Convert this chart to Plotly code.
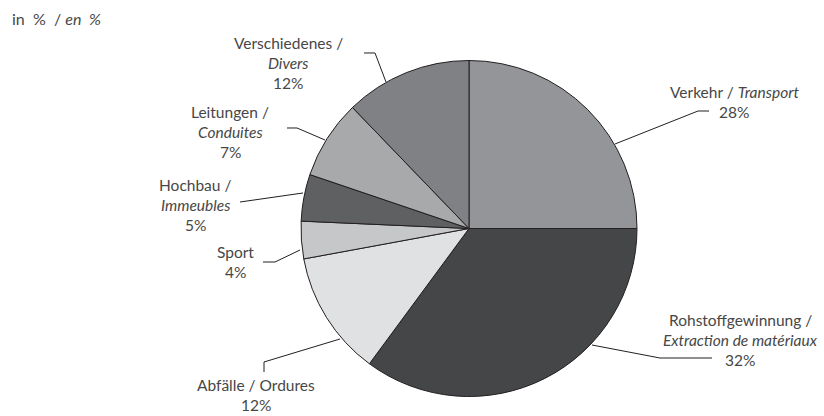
import plotly.graph_objects as go

# Daten (Anteile, Beschriftung wie gedruckt)
kategorien = ['Verkehr', 'Rohstoffgewinnung', 'Abfälle', 'Sport', 'Hochbau', 'Leitungen', 'Verschiedenes']
werte = [25.0, 35.1, 12.0, 3.6, 4.5, 7.6, 12.2]
prozent_text = ['28%', '32%', '12%', '4%', '5%', '7%', '12%']
farben = ['#939598', '#454648', '#e0e1e3', '#c6c7c9', '#5f6062', '#a8a9ab', '#808184']

W, H = 824, 416
SCHRIFT = dict(family='Lato', size=15.5, color='#474747')


def px(x):
    return x / W


def py(y):
    return 1 - y / H


# Label: Zeilen, Mitte x, y der ersten Zeile (Pixel)
labels = [
    (['Verkehr / <i>Transport</i>', prozent_text[0]], 734, 92),
    (['Rohstoffgewinnung /', '<i>Extraction de matériaux</i>', prozent_text[1]], 740, 320),
    (['Abfälle / Ordures', prozent_text[2]], 256, 385),
    (['Sport', prozent_text[3]], 235, 252),
    (['Hochbau /', '<i>Immeubles</i>', prozent_text[4]], 195, 185),
    (['Leitungen /', '<i>Conduites</i>', prozent_text[5]], 230, 112),
    (['Verschiedenes /', '<i>Divers</i>', prozent_text[6]], 288, 43),
]
linien = [
    [(615, 144), (698, 111), (709, 111)],
    [(592, 345), (660, 358), (712, 358)],
    [(340, 339), (264, 362), (264, 372)],
    [(300, 250), (275, 262), (263, 262)],
    [(303, 193), (240, 202)],
    [(325, 140), (297, 128), (287, 128)],
    [(386, 82), (375, 53), (364, 53)],
]

fig = go.Figure()
fig.add_trace(go.Pie(
    labels=kategorien, values=werte, sort=False, direction='clockwise', rotation=0,
    marker=dict(colors=farben, line=dict(color='#231f20', width=1)),
    textinfo='none', hoverinfo='label+percent',
    domain=dict(x=[px(301), px(637)], y=[py(397), py(60)]),
))

ann = []
for zeilen, xm, y0 in labels:
    for i, z in enumerate(zeilen):
        ann.append(dict(text=z, x=px(xm), y=py(y0 + i * 20), xref='paper', yref='paper',
                        xanchor='center', yanchor='middle', showarrow=False, font=SCHRIFT))
ann.append(dict(text='in&nbsp;&nbsp;%&nbsp;&nbsp;/&nbsp;<i>en&nbsp;&nbsp;%</i>', x=px(10), y=py(19),
                xref='paper', yref='paper', xanchor='left', yanchor='middle', showarrow=False,
                font=dict(family='Lato', size=16, color='#474747')))

shapes = []
for pts in linien:
    pfad = 'M ' + ' L '.join(f'{px(x):.5f},{py(y):.5f}' for x, y in pts)
    shapes.append(dict(type='path', path=pfad, xref='paper', yref='paper',
                       line=dict(color='#231f20', width=1)))

fig.update_layout(width=W, height=H, margin=dict(l=0, r=0, t=0, b=0),
                  paper_bgcolor='white', plot_bgcolor='white', showlegend=False,
                  annotations=ann, shapes=shapes)
fig.write_html('out.html', config={'displayModeBar': False},
               post_script="document.body.style.margin='0';")
